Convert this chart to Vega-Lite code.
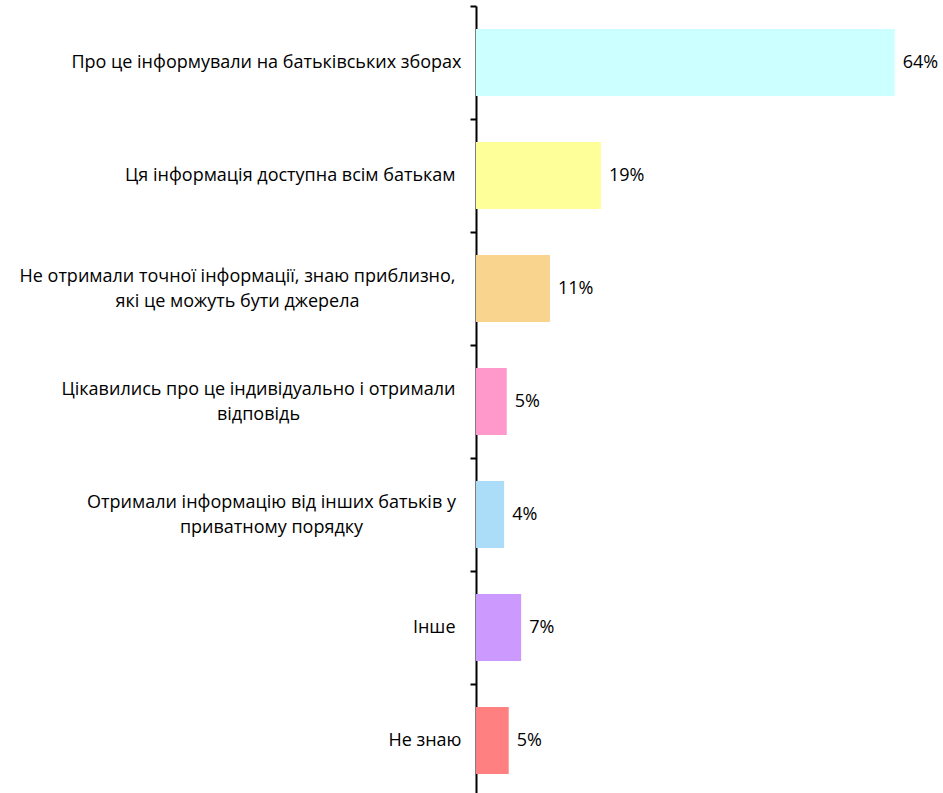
{
  "$schema": "https://vega.github.io/schema/vega-lite/v6.json",
  "autosize": {"type": "none"},
  "padding": {"left": 476, "top": 6, "right": 9, "bottom": 0},
  "width": 458,
  "height": 791,
  "background": "white",
  "config": {"view": {"stroke": null}},
  "data": {
    "values": [
      {"category": "Про це інформували на батьківських зборах", "value": 0.64},
      {"category": "Ця інформація доступна всім батькам", "value": 0.191},
      {"category": "Не отримали точної інформації, знаю приблизно,\nякі це можуть бути джерела", "value": 0.113},
      {"category": "Цікавились про це індивідуально і отримали\nвідповідь", "value": 0.047},
      {"category": "Отримали інформацію від інших батьків у\nприватному порядку", "value": 0.043},
      {"category": "Інше", "value": 0.069},
      {"category": "Не знаю", "value": 0.05}
    ]
  },
  "encoding": {
    "y": {
      "field": "category",
      "type": "nominal",
      "sort": null,
      "scale": {"paddingInner": 0.407, "paddingOuter": 0.2035},
      "axis": {
        "title": null,
        "domainColor": "#000000",
        "domainWidth": 2,
        "tickColor": "#000000",
        "tickWidth": 2,
        "tickSize": 6,
        "tickOffset": -56.5,
        "labelFont": "Open Sans",
        "labelFontSize": 18,
        "labelColor": "#000000",
        "labelLimit": 600,
        "labelLineHeight": 25,
        "labelExpr": "split(datum.value, '\\n')",
        "labelAlign": {
          "condition": {"test": "indexof(datum.value, '\\n') >= 0", "value": "center"},
          "value": "right"
        },
        "labelOffset": {
          "condition": {"test": "indexof(datum.value, '\\n') >= 0", "value": 44},
          "value": 56.5
        },
        "labelPadding": {
          "condition": [
            {"test": "indexof(datum.value, 'Не отримали') == 0", "value": 233},
            {"test": "indexof(datum.value, 'Цікавились') == 0", "value": 212},
            {"test": "indexof(datum.value, 'Отримали') == 0", "value": 199},
            {"test": "indexof(datum.value, 'Ця інформація') == 0", "value": 15},
            {"test": "datum.value == 'Інше'", "value": 15}
          ],
          "value": 9
        }
      }
    },
    "x": {
      "field": "value",
      "type": "quantitative",
      "scale": {"domain": [0, 0.7]},
      "axis": null
    }
  },
  "layer": [
    {
      "mark": {"type": "bar"},
      "encoding": {
        "color": {
          "field": "category",
          "type": "nominal",
          "sort": null,
          "legend": null,
          "scale": {"range": ["#CCFFFF", "#FFFF99", "#F9D48E", "#FF99CC", "#ABDCF8", "#CC99FF", "#FF8080"]}
        }
      }
    },
    {
      "mark": {"type": "text", "align": "left", "baseline": "middle", "dx": 8, "font": "Open Sans", "fontSize": 18, "color": "#000000"},
      "encoding": {
        "text": {"field": "value", "type": "quantitative", "format": ".0%"}
      }
    }
  ]
}
